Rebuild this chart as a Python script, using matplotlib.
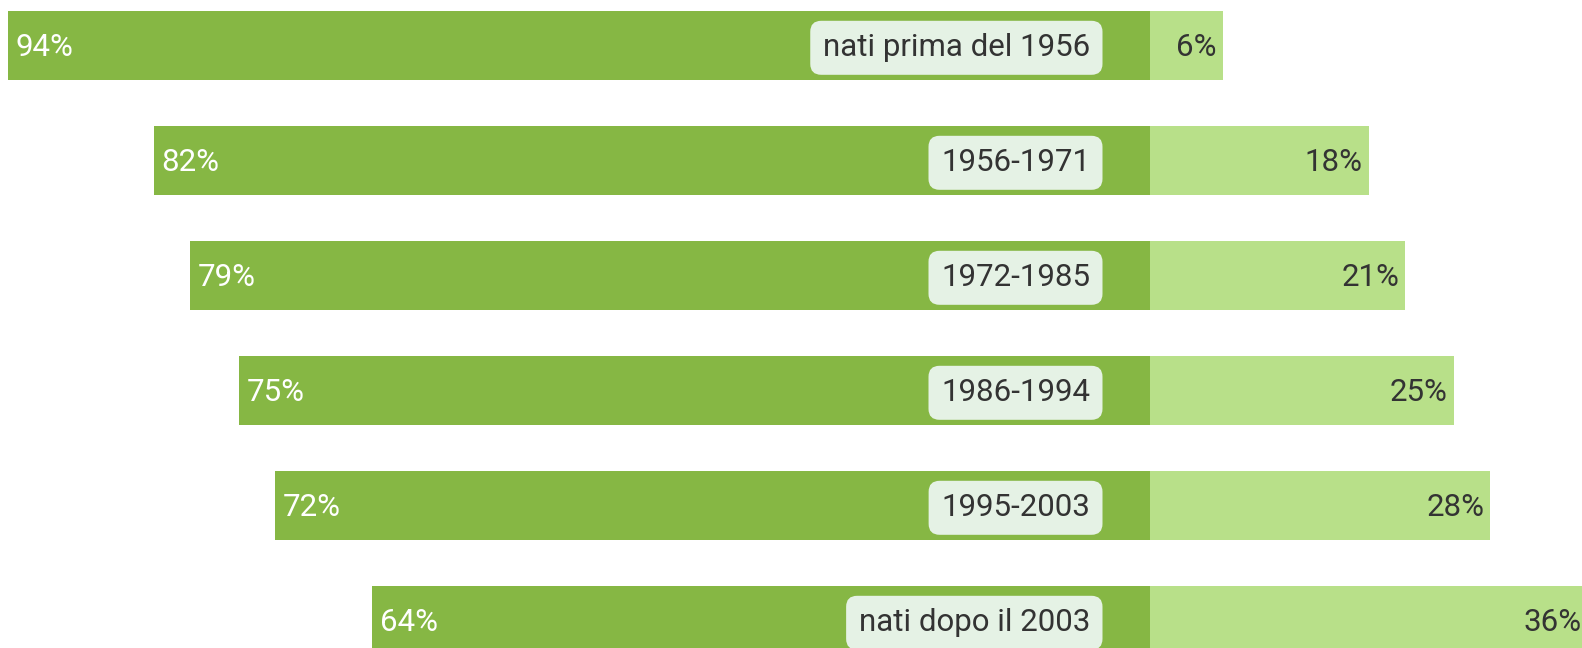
import matplotlib.pyplot as plt

plt.rcParams['font.family'] = ['Roboto', 'DejaVu Sans']

# data
groups = ['nati prima del 1956', '1956-1971', '1972-1985', '1986-1994', '1995-2003', 'nati dopo il 2003']
left_vals = [94, 82, 79, 75, 72, 64]
right_vals = [6, 18, 21, 25, 28, 36]

dark = '#86b744'
light = '#b8e089'
box_col = '#e5f2e5'
txt = '#333333'

W, H = 1582, 648
fig = plt.figure(figsize=(W / 100, H / 100), dpi=100)
ax = fig.add_axes([0, 0, 1, 1])

# pixel layout -> data limits
center_px = 1150
px_per_pct = 12.15
row_px = 115.0
first_row_px = 45.5
ax.set_xlim(-center_px / px_per_pct, (W - center_px) / px_per_pct)
ax.set_ylim((H - first_row_px) / row_px, -first_row_px / row_px)
ax.axis('off')

ys = list(range(len(groups)))
bh = 69 / row_px
ax.barh(ys, [-v for v in left_vals], height=bh, color=dark, linewidth=0)
ax.barh(ys, right_vals, height=bh, color=light, linewidth=0)

lpad = 8 / px_per_pct
rpad = 6 / px_per_pct
fs = 22.5
for y, g, lv, rv in zip(ys, groups, left_vals, right_vals):
    ax.text(-lv + lpad, y + 0.02, f'{lv}%', color='white', fontsize=fs,
            ha='left', va='center')
    ax.text(rv - rpad, y + 0.02, f'{rv}%', color=txt, fontsize=fs,
            ha='right', va='center')
    ax.text(-60 / px_per_pct, y + 0.02, g, color=txt, fontsize=fs,
            ha='right', va='center',
            bbox=dict(boxstyle='round,pad=0.4,rounding_size=0.35',
                      fc=box_col, ec='none'))

fig.savefig('out.png', dpi=100)
